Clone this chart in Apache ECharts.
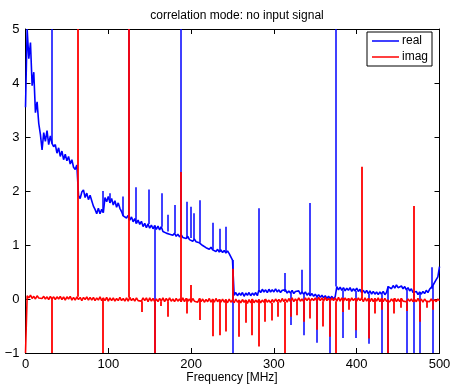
<!DOCTYPE html>
<html>
<head>
<meta charset="utf-8">
<script src="https://cdn.jsdelivr.net/npm/echarts@6/dist/echarts.min.js"></script>
<style>
  html, body { margin: 0; padding: 0; background: #fff; }
  #chart { width: 452px; height: 385px; }
</style>
</head>
<body>
<div id="chart"></div>
<script>
// Sweep sampled every 2 MHz from 0 to 500 MHz
const STEP_MHZ = 2;

// Real part of the correlator output, baseline
const realBase = [
  3.55, 5.0, 4.45, 4.75, 3.95, 4.2, 3.45, 3.65, 3.25, 3.05,
  2.76, 3.08, 2.92, 3.12, 2.86, 3.02, 2.88, 2.82, 2.86, 2.7,
  2.8, 2.64, 2.74, 2.58, 2.68, 2.56, 2.64, 2.5, 2.58, 2.44,
  2.4, 2.48, 1.92, 1.86, 1.98, 2.02, 1.88, 1.96, 1.84, 1.92,
  1.82, 1.72, 1.66, 1.58, 1.68, 1.58, 1.66, 1.6, 1.88, 1.8,
  1.9, 1.78, 1.86, 1.74, 1.82, 1.7, 1.78, 1.68, 1.62, 1.54,
  1.56, 1.5, 1.55, 1.46, 1.52, 1.43, 1.49, 1.4, 1.46, 1.38,
  1.44, 1.34, 1.4, 1.32, 1.39, 1.31, 1.37, 1.3, 1.36, 1.29,
  1.35, 1.28, 1.34, 1.25, 1.26, 1.22, 1.25, 1.2, 1.23, 1.18,
  1.22, 1.16, 1.2, 1.15, 1.19, 1.14, 1.17, 1.12, 1.16, 1.1,
  1.13, 1.07, 1.11, 1.06, 1.09, 1.04, 1.06, 0.99, 1.0, 0.95,
  0.98, 0.92, 0.96, 0.91, 0.93, 0.88, 0.92, 0.87, 0.91, 0.86,
  0.9, 0.85, 0.89, 0.84, 0.86, 0.72, 0.07, 0.12, 0.06, 0.11,
  0.07, 0.12, 0.05, 0.11, 0.07, 0.12, 0.06, 0.11, 0.07, 0.12,
  0.06, 0.17, 0.12, 0.18, 0.13, 0.17, 0.12, 0.18, 0.13, 0.17,
  0.13, 0.19, 0.13, 0.17, 0.12, 0.16, 0.13, 0.17, 0.11, 0.15,
  0.11, 0.16, 0.1, 0.14, 0.11, 0.15, 0.09, 0.13, 0.09, 0.13,
  0.07, 0.11, 0.06, 0.1, 0.05, 0.09, 0.04, 0.08, 0.03, 0.07,
  0.02, 0.06, 0.01, 0.05, 0.01, 0.05, 0.0, 0.04, 0.23, 0.17,
  0.22, 0.16, 0.21, 0.15, 0.2, 0.16, 0.21, 0.14, 0.19, 0.15,
  0.2, 0.14, 0.18, 0.12, 0.16, 0.11, 0.16, 0.1, 0.15, 0.09,
  0.14, 0.09, 0.13, 0.08, 0.13, 0.09, 0.14, 0.08, 0.12, 0.23,
  0.26, 0.19, 0.25, 0.2, 0.26, 0.21, 0.18, 0.24, 0.19, 0.23,
  0.17, 0.21, 0.15, 0.19, 0.12, 0.1, 0.14, 0.08, 0.13, 0.09,
  0.14, 0.1, 0.16, 0.12, 0.18, 0.19, 0.25, 0.27, 0.36, 0.41,
  0.6
];

// Spurious lines in the real part: [frequency MHz, value]
const realSpikes = [
  [31.25, 5], [93.75, 2.0], [102, 1.96], [117, 1.9], [125, 5],
  [133, 2.07], [148.5, 2.03], [156.25, -1], [164, 1.96], [172, 1.56],
  [179.7, 1.74], [187.5, 5], [194.6, 1.8], [199.5, 1.71], [203, 1.59],
  [210.7, 1.83], [226, 1.41], [234, 1.3], [242, 1.34], [250, -1],
  [281.25, 1.68], [312.5, 0.48], [320.3, -0.48], [333.5, 0.54], [335.9, -0.67],
  [343.75, 1.78], [351.6, -0.81], [367.2, -1], [375, 5], [382.8, -0.72],
  [398.4, -0.72], [414.1, -0.83], [429.7, -1], [437.5, -1], [460.9, -1],
  [469.3, -1], [476.6, -1], [490.5, 0.59], [492.2, -1]
];

// Imaginary part, baseline
const imagBase = [
  -1.0, 0.06, 0.02, 0.07, 0.01, 0.05, 0.0, 0.06, 0.02, 0.05,
  0.01, 0.05, 0.0, 0.04, -0.01, 0.05, 0.0, 0.04, -0.01, 0.04,
  0.0, 0.05, -0.01, 0.04, -0.02, 0.04, 0.0, 0.05, -0.02, 0.03,
  -0.02, 0.04, -0.01, 0.03, -0.03, 0.03, -0.01, 0.04, -0.02, 0.03,
  -0.02, 0.03, -0.03, 0.02, -0.02, 0.04, -0.03, 0.02, -0.03, 0.03,
  -0.04, 0.02, -0.03, 0.02, -0.04, 0.01, -0.03, 0.03, -0.03, 0.01,
  -0.04, 0.02, -0.04, 0.03, -0.03, 0.01, -0.04, 0.02, -0.03, 0.0,
  -0.04, 0.02, -0.03, 0.02, -0.05, 0.02, -0.04, 0.01, -0.05, 0.0,
  -0.05, 0.01, -0.04, 0.02, -0.05, 0.01, -0.04, 0.02, -0.04, 0.0,
  -0.05, 0.01, -0.04, 0.0, -0.05, 0.02, -0.05, 0.01, -0.04, 0.0,
  -0.06, 0.01, -0.04, -0.01, -0.06, 0.01, -0.05, 0.0, -0.06, -0.01,
  -0.05, 0.01, -0.06, 0.0, -0.06, 0.01, -0.05, -0.01, -0.06, 0.0,
  -0.06, -0.01, -0.07, 0.0, -0.06, -0.02, -0.07, 0.0, -0.06, -0.02,
  -0.07, -0.01, -0.06, -0.02, -0.08, -0.01, -0.07, 0.0, -0.07, -0.02,
  -0.06, -0.01, -0.07, -0.02, -0.06, 0.0, -0.06, -0.02, -0.07, -0.01,
  -0.06, 0.0, -0.05, -0.01, -0.06, 0.01, -0.05, 0.0, -0.06, 0.01,
  -0.05, 0.02, -0.05, 0.0, -0.04, 0.02, -0.04, 0.0, -0.05, 0.02,
  -0.03, 0.02, -0.04, 0.01, -0.03, 0.02, -0.04, 0.03, -0.03, 0.02,
  -0.04, 0.03, -0.03, 0.01, -0.04, 0.02, -0.03, 0.02, -0.04, 0.03,
  -0.04, 0.02, -0.04, 0.02, -0.03, 0.01, -0.04, 0.02, -0.03, 0.01,
  -0.04, 0.02, -0.03, 0.02, -0.05, 0.02, -0.04, 0.01, -0.05, 0.01,
  -0.05, 0.01, -0.04, 0.02, -0.05, 0.01, -0.05, 0.01, -0.04, -0.01,
  -0.05, 0.0, -0.04, 0.01, -0.05, 0.0, -0.05, 0.01, -0.04, -0.01,
  -0.05, 0.0, -0.04, 0.0, -0.05, -0.01, -0.05, 0.01, -0.05, 0.0,
  -0.06, 0.0, -0.04, -0.01, -0.05, 0.0, -0.05, -0.01, -0.05, 0.0,
  -0.03
];

// Spurious lines in the imaginary part: [frequency MHz, value]
const imagSpikes = [
  [31.25, -1], [62.5, 5], [93.75, -1], [125, 5], [140.3, -0.24],
  [156.25, -1], [163, -0.13], [171.7, -0.33], [187.5, 2.35], [194.6, -0.27],
  [200, 0.26], [210.7, -0.39], [226, -0.69], [234, -0.67], [242, -0.6],
  [250, 0.56], [257.8, -0.7], [265.6, -0.44], [273.4, -0.67], [281.25, -0.88],
  [289, -0.42], [296.9, -0.4], [304.7, -0.33], [312.5, -1], [320.3, -0.33],
  [328.1, -0.3], [335.9, -0.42], [343.75, -0.36], [351.6, -0.57], [359.4, -0.51],
  [367.2, -0.7], [375, -1], [382.8, -0.24], [390.6, -0.2], [398.4, -0.58],
  [406.25, 2.45], [414.1, -0.73], [421.9, -0.27], [429.7, -0.2], [437.5, -1],
  [445.3, -0.27], [453.1, -0.16], [460.9, -0.22], [468.75, 1.72], [476.6, -0.42],
  [484.4, -0.16], [492.2, -0.2]
];

// Axis ticks
const xTicks = { min: 0, max: 500, step: 100 };
const yTicks = { min: -1, max: 5, step: 1 };

const TITLE = 'correlation mode: no input signal';
const X_NAME = 'Frequency [MHz]';
const SERIES_NAMES = ['real', 'imag'];

const BLUE = '#0000ff';
const RED = '#ff0000';

// Baseline sweep as [frequency, value] pairs
function baseTrace(base) {
  return base.map((v, i) => [i * STEP_MHZ, v]);
}

// Each spurious line is a vertical stroke from the nearest baseline sample to its peak
function spikeSegments(base, spikes) {
  return spikes.map(([f, v]) => {
    const i = Math.min(base.length - 1, Math.max(0, Math.round(f / STEP_MHZ)));
    return { coords: [[f, base[i]], [f, v]] };
  });
}

const FONT = 'Liberation Sans, Arial, Helvetica, sans-serif';
const minus = v => String(v).replace('-', '\u2212');

const tickStyle = { show: true, inside: true, length: 5, lineStyle: { color: '#000', width: 1 } };
const axisLineStyle = { show: true, onZero: false, lineStyle: { color: '#000', width: 1 } };

const chart = echarts.init(document.getElementById('chart'), null, { renderer: 'canvas' });
chart.setOption({
  animation: false,
  backgroundColor: '#fff',
  title: [
    {
      text: TITLE,
      left: 232, top: 5, textAlign: 'center',
      textStyle: { fontFamily: FONT, fontSize: 12, fontWeight: 'normal', color: '#000' }
    },
    {
      // x-axis caption under the tick labels
      text: X_NAME,
      left: 232, top: 372, textAlign: 'center', padding: 0,
      textStyle: { fontFamily: FONT, fontSize: 12, fontWeight: 'normal', color: '#000' }
    }
  ],
  legend: {
    orient: 'vertical',
    left: 367, top: 32,
    data: SERIES_NAMES,
    icon: 'rect',
    itemWidth: 27, itemHeight: 1.5,
    itemGap: 4,
    padding: [3, 4, 3, 5],
    borderColor: '#000', borderWidth: 1,
    backgroundColor: '#fff',
    textStyle: { fontFamily: FONT, fontSize: 12, color: '#000', padding: [0, 0, 0, -2] }
  },
  grid: {
    left: 25.5, top: 29, width: 414, height: 324,
    containLabel: false, outerBoundsMode: 'none'
  },
  xAxis: [
    {
      type: 'value', position: 'bottom',
      min: xTicks.min, max: xTicks.max, interval: xTicks.step,
      axisLine: axisLineStyle, axisTick: tickStyle,
      axisLabel: { margin: 5, fontFamily: FONT, fontSize: 13, color: '#000' },
      splitLine: { show: false }
    },
    {
      type: 'value', position: 'top',
      min: xTicks.min, max: xTicks.max, interval: xTicks.step,
      axisLine: axisLineStyle, axisTick: tickStyle,
      axisLabel: { show: false }, splitLine: { show: false }
    }
  ],
  yAxis: [
    {
      type: 'value', position: 'left',
      min: yTicks.min, max: yTicks.max, interval: yTicks.step,
      axisLine: axisLineStyle, axisTick: tickStyle,
      axisLabel: { margin: 6, fontFamily: FONT, fontSize: 13, color: '#000', formatter: minus },
      splitLine: { show: false }
    },
    {
      type: 'value', position: 'right',
      min: yTicks.min, max: yTicks.max, interval: yTicks.step,
      axisLine: axisLineStyle, axisTick: tickStyle,
      axisLabel: { show: false }, splitLine: { show: false }
    }
  ],
  series: [
    {
      name: SERIES_NAMES[0], type: 'line', xAxisIndex: 0, yAxisIndex: 0,
      data: baseTrace(realBase),
      showSymbol: false, symbol: 'none', clip: true,
      color: BLUE,
      lineStyle: { color: BLUE, width: 1.6 },
      z: 2
    },
    {
      name: 'real spurs', type: 'lines', coordinateSystem: 'cartesian2d',
      xAxisIndex: 0, yAxisIndex: 0,
      data: spikeSegments(realBase, realSpikes),
      lineStyle: { color: BLUE, width: 1.5, opacity: 1 },
      clip: true, silent: true,
      z: 2
    },
    {
      name: SERIES_NAMES[1], type: 'line', xAxisIndex: 0, yAxisIndex: 0,
      data: baseTrace(imagBase),
      showSymbol: false, symbol: 'none', clip: true,
      color: RED,
      lineStyle: { color: RED, width: 1.6 },
      z: 3
    },
    {
      name: 'imag spurs', type: 'lines', coordinateSystem: 'cartesian2d',
      xAxisIndex: 0, yAxisIndex: 0,
      data: spikeSegments(imagBase, imagSpikes),
      lineStyle: { color: RED, width: 1.8, opacity: 1 },
      clip: true, silent: true,
      z: 3
    }
  ]
});
</script>
</body>
</html>
